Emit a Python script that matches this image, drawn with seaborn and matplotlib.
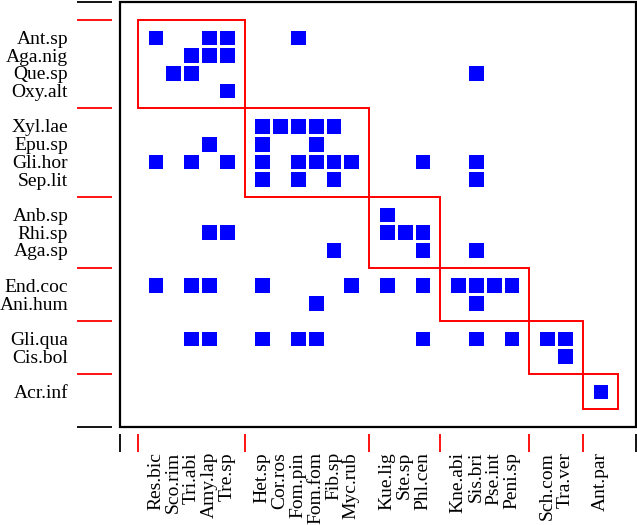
import numpy as np
import pandas as pd
import seaborn as sns
import matplotlib.pyplot as plt
from matplotlib.colors import ListedColormap
from matplotlib.patches import Rectangle

# lower level (rows) and higher level (columns) species, ordered by module
row_labels = ['Ant.sp', 'Aga.nig', 'Que.sp', 'Oxy.alt',
              'Xyl.lae', 'Epu.sp', 'Gli.hor', 'Sep.lit',
              'Anb.sp', 'Rhi.sp', 'Aga.sp',
              'End.coc', 'Ani.hum',
              'Gli.qua', 'Cis.bol',
              'Acr.inf']
col_labels = ['Res.bic', 'Sco.rim', 'Tri.abi', 'Amy.lap', 'Tre.sp',
              'Het.sp', 'Cor.ros', 'Fom.pin', 'Fom.fom', 'Fib.sp', 'Myc.rub',
              'Kue.lig', 'Ste.sp', 'Phl.cen',
              'Kne.abi', 'Sis.bri', 'Pse.int', 'Peni.sp',
              'Sch.com', 'Tra.ver',
              'Ant.par']
row_modules = [4, 4, 3, 2, 2, 1]
col_modules = [5, 6, 3, 4, 2, 1]

# interaction web (1 = link)
web = [
    [1, 0, 0, 1, 1, 0, 0, 1, 0, 0, 0, 0, 0, 0, 0, 0, 0, 0, 0, 0, 0],  # Ant.sp
    [0, 0, 1, 1, 1, 0, 0, 0, 0, 0, 0, 0, 0, 0, 0, 0, 0, 0, 0, 0, 0],  # Aga.nig
    [0, 1, 1, 0, 0, 0, 0, 0, 0, 0, 0, 0, 0, 0, 0, 1, 0, 0, 0, 0, 0],  # Que.sp
    [0, 0, 0, 0, 1, 0, 0, 0, 0, 0, 0, 0, 0, 0, 0, 0, 0, 0, 0, 0, 0],  # Oxy.alt
    [0, 0, 0, 0, 0, 1, 1, 1, 1, 1, 0, 0, 0, 0, 0, 0, 0, 0, 0, 0, 0],  # Xyl.lae
    [0, 0, 0, 1, 0, 1, 0, 0, 1, 0, 0, 0, 0, 0, 0, 0, 0, 0, 0, 0, 0],  # Epu.sp
    [1, 0, 1, 0, 1, 1, 0, 1, 1, 1, 1, 0, 0, 1, 0, 1, 0, 0, 0, 0, 0],  # Gli.hor
    [0, 0, 0, 0, 0, 1, 0, 1, 0, 1, 0, 0, 0, 0, 0, 1, 0, 0, 0, 0, 0],  # Sep.lit
    [0, 0, 0, 0, 0, 0, 0, 0, 0, 0, 0, 1, 0, 0, 0, 0, 0, 0, 0, 0, 0],  # Anb.sp
    [0, 0, 0, 1, 1, 0, 0, 0, 0, 0, 0, 1, 1, 1, 0, 0, 0, 0, 0, 0, 0],  # Rhi.sp
    [0, 0, 0, 0, 0, 0, 0, 0, 0, 1, 0, 0, 0, 1, 0, 1, 0, 0, 0, 0, 0],  # Aga.sp
    [1, 0, 1, 1, 0, 1, 0, 0, 0, 0, 1, 1, 0, 1, 1, 1, 1, 1, 0, 0, 0],  # End.coc
    [0, 0, 0, 0, 0, 0, 0, 0, 1, 0, 0, 0, 0, 0, 0, 1, 0, 0, 0, 0, 0],  # Ani.hum
    [0, 0, 1, 1, 0, 1, 0, 1, 1, 0, 0, 0, 0, 1, 0, 1, 0, 1, 1, 1, 0],  # Gli.qua
    [0, 0, 0, 0, 0, 0, 0, 0, 0, 0, 0, 0, 0, 0, 0, 0, 0, 0, 0, 1, 0],  # Cis.bol
    [0, 0, 0, 0, 0, 0, 0, 0, 0, 0, 0, 0, 0, 0, 0, 0, 0, 0, 0, 0, 1],  # Acr.inf
]


def layout(sizes):
    # one empty slot between modules; returns item positions and module borders
    pos, borders, cur = [], [1], 1
    for n in sizes:
        pos += list(range(cur + 1, cur + n + 1))
        cur += n + 1
        borders.append(cur)
    return pos, borders


row_pos, row_borders = layout(row_modules)
col_pos, col_borders = layout(col_modules)
n_rows, n_cols = row_borders[-1] + 1, col_borders[-1] + 1

grid = np.full((n_rows + 1, n_cols + 1), np.nan)
for i, r in enumerate(row_pos):
    for j, c in enumerate(col_pos):
        if web[i][j]:
            grid[r, c] = 1
df = pd.DataFrame(grid)

sns.set_theme(style='white')
plt.rcParams['font.family'] = ['Liberation Serif', 'DejaVu Serif']

fig = plt.figure(figsize=(6.37, 5.25), dpi=100)
ax = fig.add_axes([120 / 637, 1 - 427 / 525, 516 / 637, 425 / 525])

sns.heatmap(df, cmap=ListedColormap(['#0000ff']), cbar=False,
            linewidths=1.8, linecolor='white', ax=ax)
ax.set_xlim(0.5, n_cols + 0.5)
ax.set_ylim(n_rows + 0.5, 0.5)

# modules
for k in range(len(row_modules)):
    x0, x1 = col_borders[k] + 0.5, col_borders[k + 1] + 0.5
    y0, y1 = row_borders[k] + 0.5, row_borders[k + 1] + 0.5
    ax.add_patch(Rectangle((x0, y0), x1 - x0, y1 - y0, fill=False,
                           ec='#ff0000', lw=1.4, zorder=5))

# frame
for s in ax.spines.values():
    s.set_visible(True)
    s.set_color('none')
ax.spines['left'].set_position(('outward', 5.8))
ax.spines['bottom'].set_position(('outward', 5))
ax.add_patch(Rectangle((0, 0), 1, 1, transform=ax.transAxes, fill=False,
                       ec='black', lw=1.6, clip_on=False, zorder=6))

# module border ticks
xt = [0] + col_borders[:-1] + [n_cols]
yt = [0] + row_borders[:-1] + [n_rows]
ax.set_xticks([p + 0.5 for p in xt], [''] * len(xt))
ax.set_yticks([p + 0.5 for p in yt], [''] * len(yt))
ax.tick_params(axis='x', which='major', direction='out', length=13,
               width=1.3, bottom=True)
ax.tick_params(axis='y', which='major', direction='out', length=25,
               width=1.3, left=True)

# species labels
ax.set_xticks([p + 0.5 for p in col_pos], col_labels, minor=True, rotation=90)
ax.set_yticks([p + 0.5 for p in row_pos], row_labels, minor=True)
ax.tick_params(axis='x', which='minor', length=0, pad=13, bottom=True,
               labelsize=14, labelcolor='black')
ax.tick_params(axis='y', which='minor', length=0, pad=31.5, left=True,
               labelsize=14, labelcolor='black')
ax.set_xlabel('')
ax.set_ylabel('')

for ticks in (ax.xaxis.get_major_ticks(), ax.yaxis.get_major_ticks()):
    for k, t in enumerate(ticks):
        c = 'black' if k in (0, len(ticks) - 1) else '#ff0000'
        t.tick1line.set_markeredgecolor(c)

fig.savefig('out.png', dpi=100)
